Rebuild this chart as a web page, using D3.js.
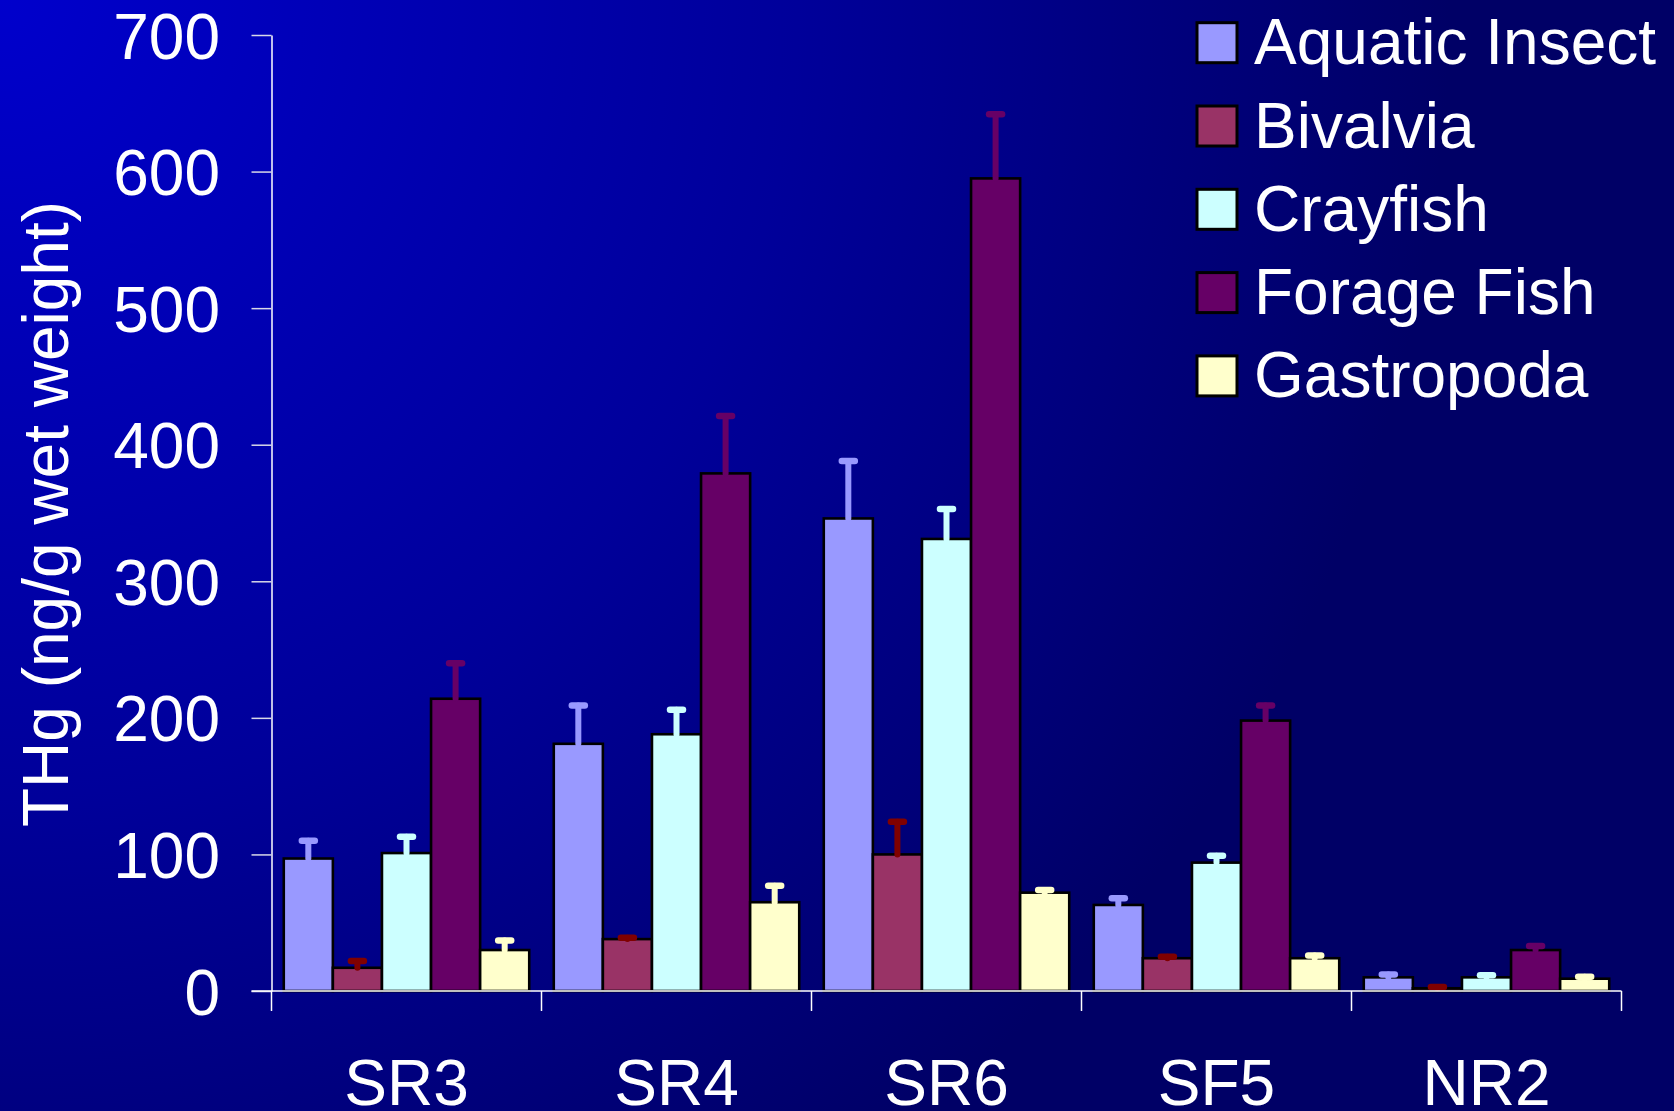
<!DOCTYPE html>
<html>
<head>
<meta charset="utf-8">
<script src="https://cdn.jsdelivr.net/npm/d3@7"></script>
<style>
  html, body { margin: 0; padding: 0; background: #000066; }
  svg { display: block; }
  text { font-family: "Liberation Sans", Arial, Helvetica, sans-serif; fill: #ffffff; }
</style>
</head>
<body>
<svg id="chart" width="1674" height="1111"></svg>
<script>
// ---- data ----
const categories = ["SR3", "SR4", "SR6", "SF5", "NR2"];
const seriesNames = ["Aquatic Insect", "Bivalvia", "Crayfish", "Forage Fish", "Gastropoda"];
const aquaticInsect = [97, 181, 346, 63, 10];
const aquaticInsectErr = [13, 28, 42, 5, 2];
const bivalvia = [17, 38, 100, 24, 2];
const bivalviaErr = [5, 1, 24, 1, 1];
const crayfish = [101, 188, 331, 94, 10];
const crayfishErr = [12, 18, 22, 5, 1.5];
const forageFish = [214, 379, 595, 198, 30];
const forageFishErr = [26, 42, 47, 11, 3];
const gastropoda = [30, 65, 72, 24, 9];
const gastropodaErr = [7, 12, 2, 2, 1.5];
const yTicks = [0, 100, 200, 300, 400, 500, 600, 700];
const yTitle = "THg (ng/g wet weight)";

const barColors = ["#9999FF", "#993366", "#CCFFFF", "#660066", "#FFFFCC"];
const errColors = ["#9999FF", "#800000", "#CCFFFF", "#660066", "#FFFFCC"];

const values = [aquaticInsect, bivalvia, crayfish, forageFish, gastropoda];
const errors = [aquaticInsectErr, bivalviaErr, crayfishErr, forageFishErr, gastropodaErr];

// ---- layout ----
const W = 1674, H = 1111;
const plot = { left: 271.5, right: 1621.5, top: 35, bottom: 991 };

const svg = d3.select("#chart");
const defs = svg.append("defs");
const grad = defs.append("radialGradient")
  .attr("id", "bg").attr("gradientUnits", "userSpaceOnUse")
  .attr("cx", 0).attr("cy", 0).attr("r", 1450);
grad.append("stop").attr("offset", 0).attr("stop-color", "#0000CC");
grad.append("stop").attr("offset", 0.55).attr("stop-color", "#00009A");
grad.append("stop").attr("offset", 1).attr("stop-color", "#000066");
svg.append("rect").attr("width", W).attr("height", H).attr("fill", "url(#bg)");

const x0 = d3.scaleBand().domain(categories).range([plot.left, plot.right]).padding(0);
const gapW = x0.bandwidth() / 5.5 * 0.25;
const x1 = d3.scaleBand().domain(seriesNames).range([gapW, x0.bandwidth() - gapW]).padding(0);
const y = d3.scaleLinear().domain([0, 700]).range([plot.bottom, plot.top]);

// bars
const groups = svg.append("g").selectAll("g").data(categories).join("g")
  .attr("transform", d => `translate(${x0(d)},0)`);
groups.selectAll("rect")
  .data((c, ci) => seriesNames.map((s, si) => ({ s, si, v: values[si][ci] })))
  .join("rect")
  .attr("x", d => x1(d.s))
  .attr("y", d => y(d.v))
  .attr("width", x1.bandwidth())
  .attr("height", d => y(0) - y(d.v))
  .attr("fill", d => barColors[d.si])
  .attr("stroke", "#000000")
  .attr("stroke-width", 2.6);

// error bars
const capHalf = 6.5;
const eb = groups.selectAll("g.err")
  .data((c, ci) => seriesNames.map((s, si) => ({ s, si, v: values[si][ci], e: errors[si][ci] })))
  .join("g").attr("class", "err");
eb.append("line")
  .attr("x1", d => x1(d.s) + x1.bandwidth() / 2)
  .attr("x2", d => x1(d.s) + x1.bandwidth() / 2)
  .attr("y1", d => y(d.v))
  .attr("y2", d => y(d.v + d.e))
  .attr("stroke", d => errColors[d.si])
  .attr("stroke-width", 6)
  .attr("stroke-linecap", "round");
eb.append("line")
  .attr("x1", d => x1(d.s) + x1.bandwidth() / 2 - capHalf)
  .attr("x2", d => x1(d.s) + x1.bandwidth() / 2 + capHalf)
  .attr("y1", d => y(d.v + d.e))
  .attr("y2", d => y(d.v + d.e))
  .attr("stroke", d => errColors[d.si])
  .attr("stroke-width", 6.5)
  .attr("stroke-linecap", "round");

// y axis
const yAxis = d3.axisLeft(y).tickValues(yTicks).tickSize(20).tickSizeOuter(0).tickPadding(31.5);
const gy = svg.append("g").attr("transform", `translate(${plot.left},0)`).call(yAxis);
gy.select(".domain").attr("stroke", "#ffffff").attr("stroke-width", 1.5);
gy.selectAll(".tick line").attr("stroke", "#d8d8e8").attr("stroke-width", 1.5);
gy.selectAll(".tick text")
  .attr("font-size", 64)
  .attr("fill", "#ffffff")
  .attr("dy", "0.36em")
  .style("font-family", "'Liberation Sans', Arial, sans-serif");

// x axis line
svg.append("line")
  .attr("x1", plot.left - 20).attr("x2", plot.right)
  .attr("y1", y(0)).attr("y2", y(0))
  .attr("stroke", "#ffffff").attr("stroke-width", 1.5);
// x ticks at group boundaries
const boundaries = categories.map(c => x0(c)).concat([x0(categories[categories.length - 1]) + x0.bandwidth()]);
svg.append("g").selectAll("line").data(boundaries).join("line")
  .attr("x1", d => d).attr("x2", d => d)
  .attr("y1", y(0)).attr("y2", y(0) + 20)
  .attr("stroke", "#ffffff").attr("stroke-width", 1.5);
// x labels
svg.append("g").selectAll("text").data(categories).join("text")
  .attr("x", d => x0(d) + x0.bandwidth() / 2)
  .attr("y", 1105)
  .attr("text-anchor", "middle")
  .attr("font-size", 64)
  .text(d => d);

// y title
svg.append("text")
  .attr("transform", "translate(68,514) rotate(-90)")
  .attr("text-anchor", "middle")
  .attr("font-size", 64)
  .text(yTitle);

// legend
const legend = svg.append("g").selectAll("g").data(seriesNames).join("g")
  .attr("transform", (d, i) => `translate(1197,${22.7 + i * 83.3})`);
legend.append("rect")
  .attr("width", 40).attr("height", 40)
  .attr("fill", (d, i) => barColors[i])
  .attr("stroke", "#000000").attr("stroke-width", 3);
legend.append("text")
  .attr("x", 57).attr("y", 41.5)
  .attr("font-size", 64)
  .text(d => d);
</script>
</body>
</html>
